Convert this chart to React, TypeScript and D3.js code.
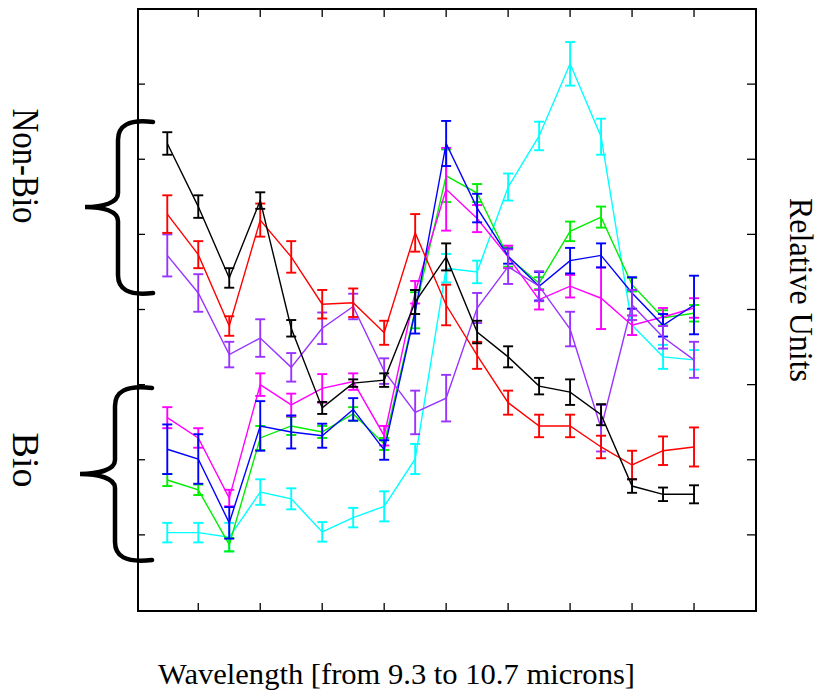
import React from "react";
import * as d3 from "d3";

const xTicks = [1, 3, 5, 7, 9, 11, 13, 15, 17];
const yTicks = [1, 2, 3, 4, 5, 6, 7];

const black = [6.21, 5.37, 4.42, 5.45, 3.75, 2.69, 3.02, 3.06, 4.1, 4.7, 3.7, 3.37, 2.98, 2.9, 2.6, 1.65, 1.54, 1.54];
const blackErr = [0.15, 0.15, 0.13, 0.11, 0.11, 0.08, 0.05, 0.09, 0.16, 0.18, 0.15, 0.14, 0.11, 0.17, 0.14, 0.09, 0.09, 0.12];
const red = [5.27, 4.73, 3.78, 5.19, 4.7, 4.07, 4.09, 3.69, 5.02, 4.06, 3.39, 2.76, 2.45, 2.45, 2.17, 1.93, 2.12, 2.17];
const redErr = [0.25, 0.18, 0.13, 0.22, 0.21, 0.19, 0.19, 0.16, 0.25, 0.27, 0.18, 0.16, 0.15, 0.15, 0.15, 0.19, 0.19, 0.26];
const purple = [4.72, 4.22, 3.4, 3.62, 3.23, 3.75, 4.04, 3.18, 2.63, 2.82, 4.02, 4.57, 4.31, 3.74, 2.42, 4.06, 3.63, 3.33];
const purpleErr = [0.28, 0.25, 0.17, 0.25, 0.19, 0.21, 0.17, 0.17, 0.29, 0.31, 0.2, 0.23, 0.2, 0.23, 0.31, 0.2, 0.15, 0.24];
const magenta = [2.56, 2.29, 1.49, 3.0, 2.73, 2.95, 3.04, 2.32, 4.23, 5.6, 5.21, 4.7, 4.13, 4.31, 4.15, 3.79, 3.9, 4.02];
const magentaErr = [0.14, 0.13, 0.11, 0.15, 0.15, 0.19, 0.11, 0.13, 0.15, 0.55, 0.18, 0.15, 0.13, 0.15, 0.41, 0.13, 0.12, 0.13];
const blue = [2.14, 2.01, 1.16, 2.45, 2.37, 2.32, 2.67, 2.13, 3.97, 6.21, 5.35, 4.71, 4.31, 4.65, 4.72, 4.22, 3.79, 4.06];
const blueErr = [0.33, 0.33, 0.21, 0.33, 0.22, 0.16, 0.15, 0.13, 0.29, 0.3, 0.19, 0.1, 0.19, 0.17, 0.16, 0.21, 0.15, 0.39];
const green = [1.73, 1.6, 0.87, 2.29, 2.45, 2.37, 2.61, 2.21, 3.99, 5.78, 5.55, 4.7, 4.35, 5.04, 5.23, 4.33, 3.89, 3.95];
const greenErr = [0.08, 0.07, 0.09, 0.16, 0.12, 0.08, 0.09, 0.08, 0.24, 0.35, 0.12, 0.13, 0.08, 0.13, 0.14, 0.09, 0.1, 0.11];
const cyan = [1.03, 1.03, 0.97, 1.57, 1.48, 1.04, 1.23, 1.38, 2.01, 4.55, 4.5, 5.63, 6.31, 7.27, 6.3, 3.79, 3.37, 3.33];
const cyanErr = [0.13, 0.13, 0.19, 0.17, 0.14, 0.13, 0.13, 0.2, 0.2, 0.19, 0.15, 0.18, 0.19, 0.29, 0.24, 0.13, 0.16, 0.13];

const seriesList = [
  { name: "cyan", values: cyan, errs: cyanErr, color: "#00ffff" },
  { name: "green", values: green, errs: greenErr, color: "#00ee00" },
  { name: "magenta", values: magenta, errs: magentaErr, color: "#ff00ff" },
  { name: "blue", values: blue, errs: blueErr, color: "#0000ff" },
  { name: "purple", values: purple, errs: purpleErr, color: "#9933ff" },
  { name: "red", values: red, errs: redErr, color: "#ff0000" },
  { name: "black", values: black, errs: blackErr, color: "#000000" },
];

const L = 138, R = 756, T = 9, B = 611;

function brace(top: number, bottom: number, tipX: number, tipY: number, stemX: number, endX: number) {
  return `M ${endX} ${top} C ${stemX + 10} ${top - 3}, ${stemX} ${top + 4}, ${stemX} ${top + 18}
    L ${stemX} ${tipY - 14} C ${stemX} ${tipY - 4}, ${tipX + 18} ${tipY}, ${tipX} ${tipY}
    C ${tipX + 18} ${tipY}, ${stemX} ${tipY + 4}, ${stemX} ${tipY + 14}
    L ${stemX} ${bottom - 18} C ${stemX} ${bottom - 4}, ${stemX + 10} ${bottom + 3}, ${endX} ${bottom}`;
}

export default function App() {
  const x = d3.scaleLinear().domain([-0.945, 19]).range([L, R]);
  const y = d3.scaleLinear().domain([0, 8]).range([610, 9]);
  const line = d3
    .line<number>()
    .x((_, i) => x(i))
    .y((d) => y(d));
  const font = "'Liberation Serif', 'Times New Roman', serif";
  return (
    <svg width={823} height={692} style={{ position: "absolute", left: 0, top: 0, background: "#fff" }}>
      <rect x={0} y={0} width={823} height={692} fill="#fff" />
      {seriesList.map((s) => (
        <g key={s.name}>
          <path d={line(s.values) || ""} fill="none" stroke={s.color} strokeWidth={1.4} />
          {s.values.map((v, i) => {
            const cx = x(i);
            const y1 = y(v + s.errs[i]);
            const y2 = y(v - s.errs[i]);
            return (
              <g key={i} stroke={s.color} strokeWidth={1.9}>
                <line x1={cx} x2={cx} y1={y1} y2={y2} />
                <line x1={cx - 5} x2={cx + 5} y1={y1} y2={y1} />
                <line x1={cx - 5} x2={cx + 5} y1={y2} y2={y2} />
              </g>
            );
          })}
        </g>
      ))}
      <rect x={L} y={T} width={R - L} height={B - T} fill="none" stroke="#000" strokeWidth={2} />
      {xTicks.map((t) => (
        <g key={"xt" + t} stroke="#000" strokeWidth={1.3}>
          <line x1={x(t)} x2={x(t)} y1={B} y2={B - 8} />
          <line x1={x(t)} x2={x(t)} y1={T} y2={T + 8} />
        </g>
      ))}
      {yTicks.map((t) => (
        <g key={"yt" + t} stroke="#000" strokeWidth={1.3}>
          <line x1={L} x2={L + 7} y1={y(t)} y2={y(t)} />
          <line x1={R} x2={R - 9} y1={y(t)} y2={y(t)} />
        </g>
      ))}
      <path d={brace(122, 293, 85, 207, 118, 153)} fill="none" stroke="#000" strokeWidth={4.5} strokeLinecap="round" />
      <path d={brace(388, 560, 80, 474, 115, 152)} fill="none" stroke="#000" strokeWidth={4.5} strokeLinecap="round" />
      <text
        transform="translate(13,166) rotate(90)"
        textAnchor="middle"
        fontFamily={font}
        fontSize={38}
        textLength={115}
        lengthAdjust="spacingAndGlyphs"
      >
        Non-Bio
      </text>
      <text
        transform="translate(13,460) rotate(90)"
        textAnchor="middle"
        fontFamily={font}
        fontSize={38}
        textLength={55}
        lengthAdjust="spacingAndGlyphs"
      >
        Bio
      </text>
      <text
        transform="translate(790,290) rotate(90)"
        textAnchor="middle"
        fontFamily={font}
        fontSize={33}
        textLength={184}
        lengthAdjust="spacingAndGlyphs"
      >
        Relative Units
      </text>
      <text
        x={396.5}
        y={684}
        textAnchor="middle"
        fontFamily={font}
        fontSize={29}
        textLength={477}
        lengthAdjust="spacingAndGlyphs"
      >
        Wavelength [from 9.3 to 10.7 microns]
      </text>
    </svg>
  );
}
